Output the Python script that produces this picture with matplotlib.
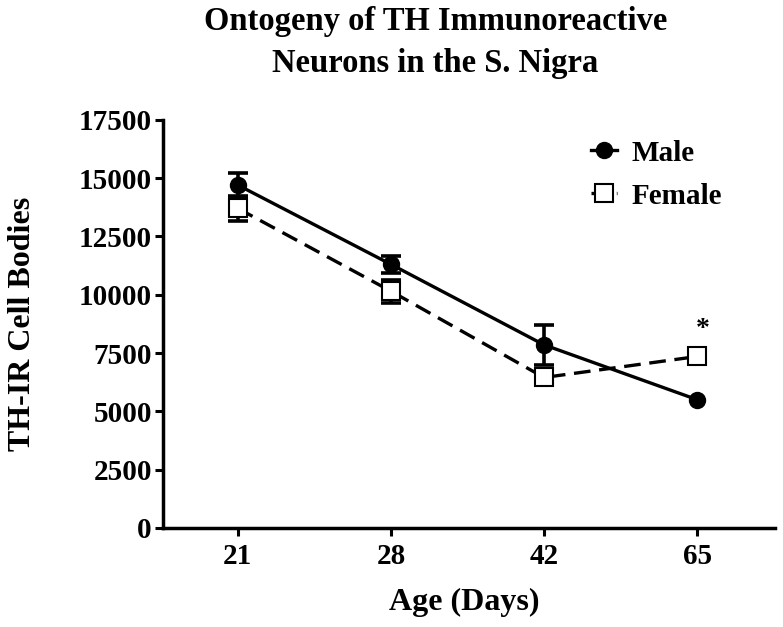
import numpy as np
import matplotlib
matplotlib.use("Agg")
import matplotlib.pyplot as plt

# Datos
edades = ["21", "28", "42", "65"]
machos = [14700, 11300, 7850, 5500]
machos_sem = [500, 380, 850, np.nan]
hembras = [13700, 10150, 6450, 7350]
hembras_sem = [550, 500, np.nan, np.nan]

plt.rcParams["font.family"] = ["Liberation Serif", "DejaVu Serif"]
plt.rcParams["font.weight"] = "bold"

fig = plt.figure(figsize=(7.83, 6.27), dpi=100)
ax = fig.add_axes([0.208, 0.158, 0.782, 0.651])

x = np.arange(len(edades))

# barras de error
ax.errorbar(x, machos, yerr=machos_sem, fmt="none", ecolor="black",
            elinewidth=2.6, capsize=7, capthick=2.6, zorder=2)
ax.errorbar(x, hembras, yerr=hembras_sem, fmt="none", ecolor="black",
            elinewidth=2.6, capsize=7, capthick=2.6, zorder=2)

ax.plot(x, machos, "-", color="black", lw=2.4, marker="o", ms=11.5,
        mfc="black", mec="black", label="Male", zorder=3)
linea_h, = ax.plot(x, hembras, "--", color="black", lw=2.4, marker="s",
                   ms=12.5, mfc="white", mec="black", mew=1.5,
                   label="Female", zorder=4)
linea_h.set_dashes((5, 2.6))

# asterisco de significación
ax.text(x[3] + 0.04, hembras[3] + 1150, "*", ha="center", va="center",
        fontsize=20, fontweight="bold")

ax.set_xlim(-0.49, 3.51)
ax.set_ylim(0, 17500)
ax.set_yticks(np.arange(0, 17501, 2500))
ax.set_xticks(x)
ax.set_xticklabels(edades)

for lado in ["top", "right"]:
    ax.spines[lado].set_visible(False)
for lado in ["left", "bottom"]:
    ax.spines[lado].set_linewidth(2.5)
ax.tick_params(axis="both", width=2.2, length=6, labelsize=21, pad=2)
ax.tick_params(axis="x", pad=5)

ax.set_ylabel("TH-IR Cell Bodies", fontsize=23, fontweight="bold")
ax.yaxis.set_label_coords(-0.206, 0.5)
ax.set_xlabel("Age (Days)", fontsize=23, fontweight="bold")
ax.xaxis.set_label_coords(0.493, -0.148)

fig.text(0.556, 0.99, "Ontogeny of TH Immunoreactive\nNeurons in the S. Nigra",
         ha="center", va="top", fontsize=23.5, fontweight="bold", linespacing=1.45)

leg = ax.legend(loc="upper left", bbox_to_anchor=(0.68, 0.98), frameon=False,
                fontsize=21, handlelength=0.9, handletextpad=0.5,
                labelspacing=0.55, borderaxespad=0)

fig.savefig("out.png", dpi=100)
